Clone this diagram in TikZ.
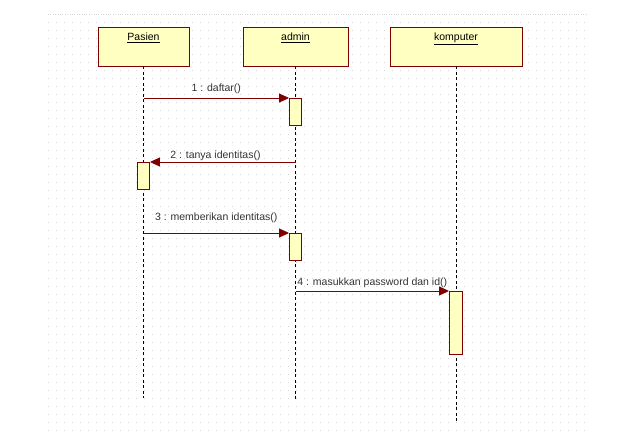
\documentclass[tikz,border=0pt]{standalone}
\usepackage{fontspec}
\setmainfont{Liberation Sans}
\usetikzlibrary{arrows.meta,calc,positioning}
\definecolor{umlred}{HTML}{800000}
\definecolor{umlfill}{HTML}{FFFFC1}
\definecolor{gridgray}{HTML}{D4D4D4}

\begin{document}
\begin{tikzpicture}[
  x=1pt,y=-1pt,
  obj/.style={draw=umlred,fill=umlfill,line width=0.9pt,minimum height=39pt,inner sep=0pt},
  act/.style={draw=umlred,fill=umlfill,line width=0.9pt,minimum width=12pt,anchor=north,inner sep=0pt},
  life/.style={line width=0.8pt,dash pattern=on 3pt off 2.5pt},
  msg/.style={-{Triangle[length=10pt,width=9pt]},umlred,line width=0.9pt},
  lbl/.style={font=\fontsize{10.5}{12}\selectfont,inner sep=0pt}
]
  \useasboundingbox[fill=white] (0,0) rectangle (619,434);
  % dotted canvas
  \draw[gridgray,line width=0.8pt,dash pattern=on 0.8pt off 1.6pt] (48,14) -- (586,14);
  \foreach \gy in {22,30,...,430}
    \draw[gridgray,line width=0.8pt,dash pattern=on 0.8pt off 7.2pt] (48,\gy) -- (586,\gy);

  % objects
  \node[obj,minimum width=91pt] (pasien) at (143.5,46.5) {};
  \node[obj,minimum width=105pt] (admin) at (295.5,46.5) {};
  \node[obj,minimum width=132pt] (komputer) at (456,46.5) {};
  \node[lbl,below=6.5pt of pasien.north] {\underline{Pasien}};
  \node[lbl,below=6.5pt of admin.north] {\underline{admin}};
  \node[lbl,below=6.5pt of komputer.north] {\underline{komputer}};

  % lifelines
  \coordinate (pasienend) at (pasien.south |- 0,398);
  \coordinate (adminend) at (admin.south |- 0,400);
  \coordinate (komputerend) at (komputer.south |- 0,423);
  \draw[life] (pasien.south) -- (pasienend);
  \draw[life] (admin.south) -- (adminend);
  \draw[life] (komputer.south) -- (komputerend);

  % activations
  \node[act,minimum height=27pt] (act1) at (admin.south |- 0,98) {};
  \node[act,minimum height=27pt] (act2) at (pasien.south |- 0,162) {};
  \node[act,minimum height=27pt] (act3) at (admin.south |- 0,233) {};
  \node[act,minimum width=13pt,minimum height=63pt] (act4) at (komputer.south |- 0,291) {};

  % messages
  \draw[msg] (pasien.south |- act1.north) -- (act1.north west)
    node[lbl,midway,above=4pt,black!80] {1 : daftar()};
  \draw[msg] (admin.south |- act2.north) -- (act2.north east)
    node[lbl,pos=0.55,above=1pt,black!80] {2 : tanya identitas()};
  \draw[msg] (pasien.south |- act3.north) -- (act3.north west)
    node[lbl,midway,above=10pt,black!80] {3 : memberikan identitas()};
  \draw[msg] (admin.south |- act4.north) -- (act4.north west)
    node[lbl,midway,above=3pt,black!80] {4 : masukkan password dan id()};
\end{tikzpicture}
\end{document}
